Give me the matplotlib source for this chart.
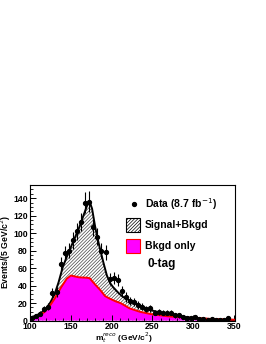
import matplotlib
matplotlib.use("Agg")
import matplotlib.pyplot as plt
from matplotlib.patches import Rectangle
from matplotlib.ticker import MultipleLocator
import numpy as np

plt.rcParams['font.family'] = ['Liberation Sans', 'DejaVu Sans']
plt.rcParams['hatch.linewidth'] = 0.5

# Data points (bin centres, events)
data_x = [102.5, 107.5, 112.5, 117.5, 122.5, 127.5, 132.5, 137.5, 142.5, 147.5,
          152.5, 157.5, 162.5, 167.5, 172.5, 177.5, 182.5, 187.5, 192.5, 197.5,
          202.5, 207.5, 212.5, 217.5, 222.5, 227.5, 232.5, 237.5, 242.5, 247.5,
          252.5, 257.5, 262.5, 267.5, 272.5, 277.5, 282.5, 287.5, 292.5, 297.5,
          302.5, 307.5, 312.5, 317.5, 322.5, 327.5, 332.5, 337.5, 342.5]
data_y = [3, 5, 8, 13, 16, 32, 33, 65, 77, 80,
          92, 102, 113, 135, 136, 107, 96, 80, 78, 48,
          49, 47, 34, 27, 22, 21, 18, 16, 13, 14,
          9, 10, 9, 9, 9, 6, 6, 4, 3, 3,
          4, 2, 2, 1, 2, 1, 1, 1, 3]

# Signal + background curve
sb_x = [100, 105, 110, 115, 120, 125, 130, 135, 140, 145, 150, 155, 160, 165,
        170, 173, 176, 180, 183, 186, 190, 194, 198, 202, 208, 214, 220, 230,
        240, 250, 260, 270, 280, 290, 300, 320, 340, 351]
sb_y = [3.5, 5, 7, 10, 14, 21, 30, 44, 61, 73, 84, 95, 106, 119,
        132, 136, 128, 106, 93, 81, 66, 52, 43, 38, 32, 27, 24, 19.5,
        15, 11.5, 9, 7, 5.5, 4, 3, 1.8, 1, 0.7]

# Background-only curve
bg_x = [100, 110, 118, 125, 130, 138, 145, 150, 155, 160, 170, 173, 180, 186,
        192, 198, 205, 211, 222, 235, 248, 268, 290, 310, 330, 351]
bg_y = [2.5, 5, 10, 18, 25, 38, 48, 51.5, 50.5, 49.5, 49, 48.5, 41, 35,
        28, 25, 22, 20, 14, 10, 7.5, 5, 3.5, 2.5, 1.5, 1]

fig = plt.figure(figsize=(2.66, 3.44), dpi=100)
ax = fig.add_axes([0.113, 0.068, 0.770, 0.394])

ax.fill_between(sb_x, 0, sb_y, facecolor='white', edgecolor='#444444',
                hatch='//////////', linewidth=0)
ax.plot(sb_x, sb_y, color='black', lw=1.4)
ax.fill_between(bg_x, 0, bg_y, facecolor='#ff00ff', edgecolor='none')
ax.plot(bg_x, bg_y, color='#ff0000', lw=1.4)

dy = np.sqrt(np.array(data_y, dtype=float))
ax.errorbar(data_x, data_y, yerr=dy, fmt='o', color='black', ms=2.8,
            elinewidth=0.8, capsize=0)

ax.set_xlim(100, 351)
ax.set_ylim(0, 155)
ax.xaxis.set_major_locator(MultipleLocator(50))
ax.xaxis.set_minor_locator(MultipleLocator(10))
ax.yaxis.set_major_locator(MultipleLocator(20))
ax.yaxis.set_minor_locator(MultipleLocator(5))
ax.tick_params(which='both', direction='in', labelsize=6.3)
ax.tick_params(axis='x', pad=0.8)
ax.tick_params(axis='y', pad=1.5)
ax.tick_params(which='major', length=4, width=0.7)
ax.tick_params(which='minor', length=2, width=0.6)
for lab in ax.get_xticklabels() + ax.get_yticklabels():
    lab.set_fontweight('bold')
for s in ax.spines.values():
    s.set_linewidth(0.8)

fig.text(6 / 266, 1 - 252 / 344, 'Events/(5 GeV/c$^2$)', fontsize=6.2,
         fontweight='bold', rotation=90, ha='center', va='center')
fig.text(124 / 266, 1 - 338 / 344, r'm$_t^{reco}$ (GeV/c$^2$)', fontsize=6.0,
         fontweight='bold', ha='center', va='center')

# Legend (manual)
tx = 145 / 266
fig.text(tx, 1 - 204 / 344, 'Data (8.7 fb$^{-1}$)', fontsize=7.5, fontweight='bold',
         va='center', ha='left')
fig.add_artist(plt.Line2D([133.5 / 266], [1 - 204 / 344], marker='o', ms=2.8,
                          color='black', transform=fig.transFigure))
fig.add_artist(Rectangle((126 / 266, 1 - 231.5 / 344), 14 / 266, 14 / 344,
                         transform=fig.transFigure, facecolor='white',
                         edgecolor='black', hatch='//////////', lw=0.8))
fig.text(tx, 1 - 224.5 / 344, 'Signal+Bkgd', fontsize=7.5, fontweight='bold',
         va='center', ha='left')
fig.add_artist(Rectangle((126 / 266, 1 - 252.5 / 344), 14 / 266, 13.5 / 344,
                         transform=fig.transFigure, facecolor='#ff00ff',
                         edgecolor='#ff0000', lw=0.8))
fig.text(tx, 1 - 246 / 344, 'Bkgd only', fontsize=7.5, fontweight='bold',
         va='center', ha='left')
fig.text(147 / 266, 1 - 264 / 344, '0-tag', fontsize=8.5, fontweight='bold',
         va='center', ha='left')

fig.savefig('out.png', dpi=100)
